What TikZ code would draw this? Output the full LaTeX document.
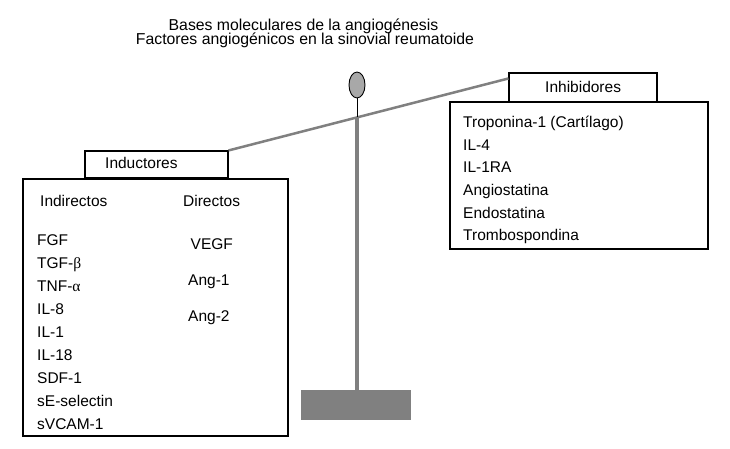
\documentclass[tikz,border=0pt]{standalone}
\usepackage{fontspec}
\setmainfont{Liberation Sans}
\newfontfamily\greekfont{Liberation Serif}
\usetikzlibrary{calc,shapes.geometric}
\definecolor{beamgray}{HTML}{808080}
\definecolor{knobgray}{HTML}{A8A8A8}
\begin{document}
\begin{tikzpicture}[x=1pt,y=-1pt,
  boxed/.style={draw=black,line width=1.1pt,rectangle,inner sep=0pt},
  item/.style={anchor=base west,inner sep=0pt,font=\fontsize{15.5}{18}\selectfont},
  lbl/.style={anchor=base west,inner sep=0pt,font=\fontsize{15.5}{18}\selectfont},
  ttl/.style={inner sep=0pt,font=\fontsize{15.8}{14}\selectfont,anchor=base}]
\useasboundingbox (0,0) rectangle (730,449);
\fill[white] (0,0) rectangle (730,449);
% title
\node[ttl] (title1) at (303.5,30.5) {Bases moleculares de la angiogénesis};
\node[ttl] (title2) at (305,45) {Factores angiogénicos en la sinovial reumatoide};
% boxes
\node[boxed,minimum width=265pt,minimum height=257pt] (indbox) at (155.5,307.5) {};
\node[boxed,minimum width=143pt,minimum height=27pt] (indlabel) at (156.5,164.5) {};
\node[boxed,minimum width=258pt,minimum height=147pt] (inhbox) at (579,175.5) {};
\node[boxed,minimum width=148pt,minimum height=29pt] (inhlabel) at (583,87.5) {};
% scale
\node[fill=beamgray,draw=none,minimum width=110pt,minimum height=30pt,inner sep=0pt] (base) at (356,405) {};
\coordinate (pivot) at (357,117.5);
\draw[beamgray,line width=4.5pt] (pivot) -- (base.north -| pivot);
\coordinate (beamend) at ($(inhlabel.north west)!0.2!(inhlabel.south west)$);
\draw[beamgray,line width=2.5pt] (indlabel.north east) -- (beamend);
\node[ellipse,draw=black,line width=0.9pt,fill=knobgray,minimum width=16pt,minimum height=26pt,inner sep=0pt] (knob) at (357,85) {};
\draw[black,line width=0.9pt] (knob.south) -- (pivot);
% labels
\node[lbl] (tind) at (105,168.5) {Inductores};
\node[lbl] (tinh) at (545,92.5) {Inhibidores};
% left column
\node[item] (indir) at (40,206.5) {Indirectos};
\node[item] (dir) at (183,206.5) {Directos};
\node[item] (i1) at (37,245) {FGF};
\node[item] (i2) at (37,268) {TGF-{\greekfont β}};
\node[item] (i3) at (37,291) {TNF-{\greekfont α}};
\node[item] (i4) at (37,314) {IL-8};
\node[item] (i5) at (37,337) {IL-1};
\node[item] (i6) at (37,360) {IL-18};
\node[item] (i7) at (37,383) {SDF-1};
\node[item] (i8) at (37,406) {sE-selectin};
\node[item] (i9) at (37,429) {sVCAM-1};
\node[item] (d1) at (190.5,249.5) {VEGF};
\node[item] (d2) at (188,285.5) {Ang-1};
\node[item] (d3) at (188,321.5) {Ang-2};
% right column
\node[item] (r1) at (463,127.5) {Troponina-1 (Cartílago)};
\node[item] (r2) at (463,150.5) {IL-4};
\node[item] (r3) at (463,173) {IL-1RA};
\node[item] (r4) at (463,195.5) {Angiostatina};
\node[item] (r5) at (463,218) {Endostatina};
\node[item] (r6) at (463,240.5) {Trombospondina};
\end{tikzpicture}
\end{document}
